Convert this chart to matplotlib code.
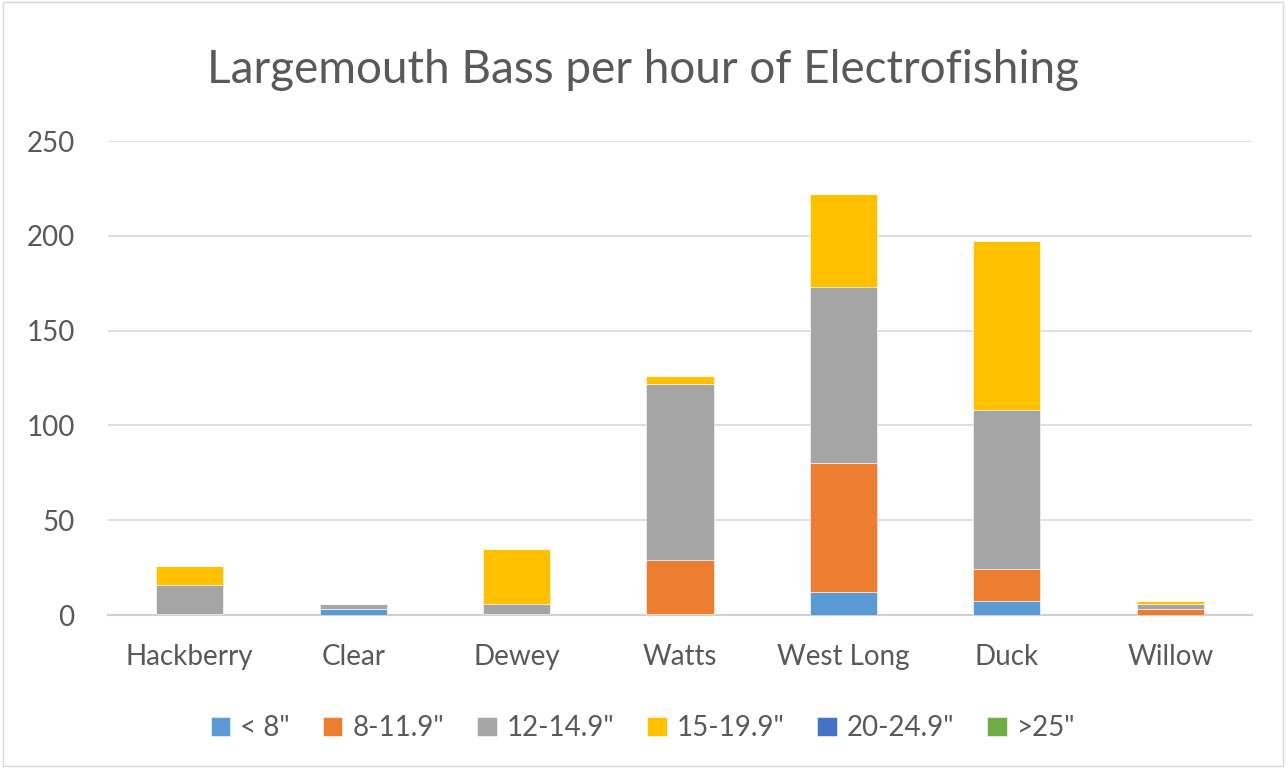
import matplotlib.pyplot as plt
import numpy as np

plt.rcParams['font.family'] = ['Lato', 'DejaVu Sans']

# lakes and catch per hour by length class
lakes = ['Hackberry', 'Clear', 'Dewey', 'Watts', 'West Long', 'Duck', 'Willow']
size_classes = ['< 8"', '8-11.9"', '12-14.9"', '15-19.9"', '20-24.9"', '>25"']
under8 = [0, 3, 0, 0.5, 12, 7.5, 0]
s8_12 = [0.5, 0, 0.5, 28.5, 68, 17, 3]
s12_15 = [15.5, 3, 5.5, 93, 93, 83.5, 3]
s15_20 = [10, 0, 29, 4, 49, 89, 1.5]
s20_25 = [0, 0, 0, 0, 0, 0, 0]
over25 = [0, 0, 0, 0, 0, 0, 0]

series = [under8, s8_12, s12_15, s15_20, s20_25, over25]
colors = ['#5b9bd5', '#ed7d31', '#a5a5a5', '#ffc000', '#4472c4', '#70ad47']

fig = plt.figure(figsize=(12.86, 7.68), dpi=100)
ax = fig.add_axes([108 / 1286, 1 - 615 / 768, (1252 - 108) / 1286, (615 - 141) / 768])

x = np.arange(len(lakes))
bottom = np.zeros(len(lakes))
for vals, lab, col in zip(series, size_classes, colors):
    ax.bar(x, vals, 0.41, bottom=bottom, color=col, label=lab,
           edgecolor='white', linewidth=0.4, zorder=3)
    bottom += np.array(vals)

ax.set_xlim(-0.5, len(lakes) - 0.5)
ax.set_ylim(0, 250)
ax.set_yticks(range(0, 251, 50))
ax.yaxis.grid(True, color='#d9d9d9', linewidth=1.2, zorder=0)
for s in ['top', 'right', 'left']:
    ax.spines[s].set_visible(False)
ax.spines['bottom'].set_color('#d0d0d0')
ax.spines['bottom'].set_linewidth(1.5)
ax.tick_params(axis='both', length=0, labelsize=20, labelcolor='#595959')
ax.tick_params(axis='y', pad=24)
ax.tick_params(axis='x', pad=21)
ax.set_xticks(x)
ax.set_xticklabels(lakes)

fig.text(0.5, 1 - 70 / 768, 'Largemouth Bass per hour of Electrofishing',
         ha='center', va='center', fontsize=33, color='#595959')

fig.legend(loc='center', bbox_to_anchor=(0.5, 1 - 728 / 768), ncol=6,
           frameon=False, fontsize=20, labelcolor='#595959',
           handlelength=0.7, handleheight=0.7, handletextpad=0.35, columnspacing=1.2)

# thin border around the chart
fig.patches.append(plt.Rectangle((0.002, 0.002), 0.996, 0.996, transform=fig.transFigure,
                                 fill=False, edgecolor='#d9d9d9', linewidth=1))

fig.savefig('out.png', dpi=100)
